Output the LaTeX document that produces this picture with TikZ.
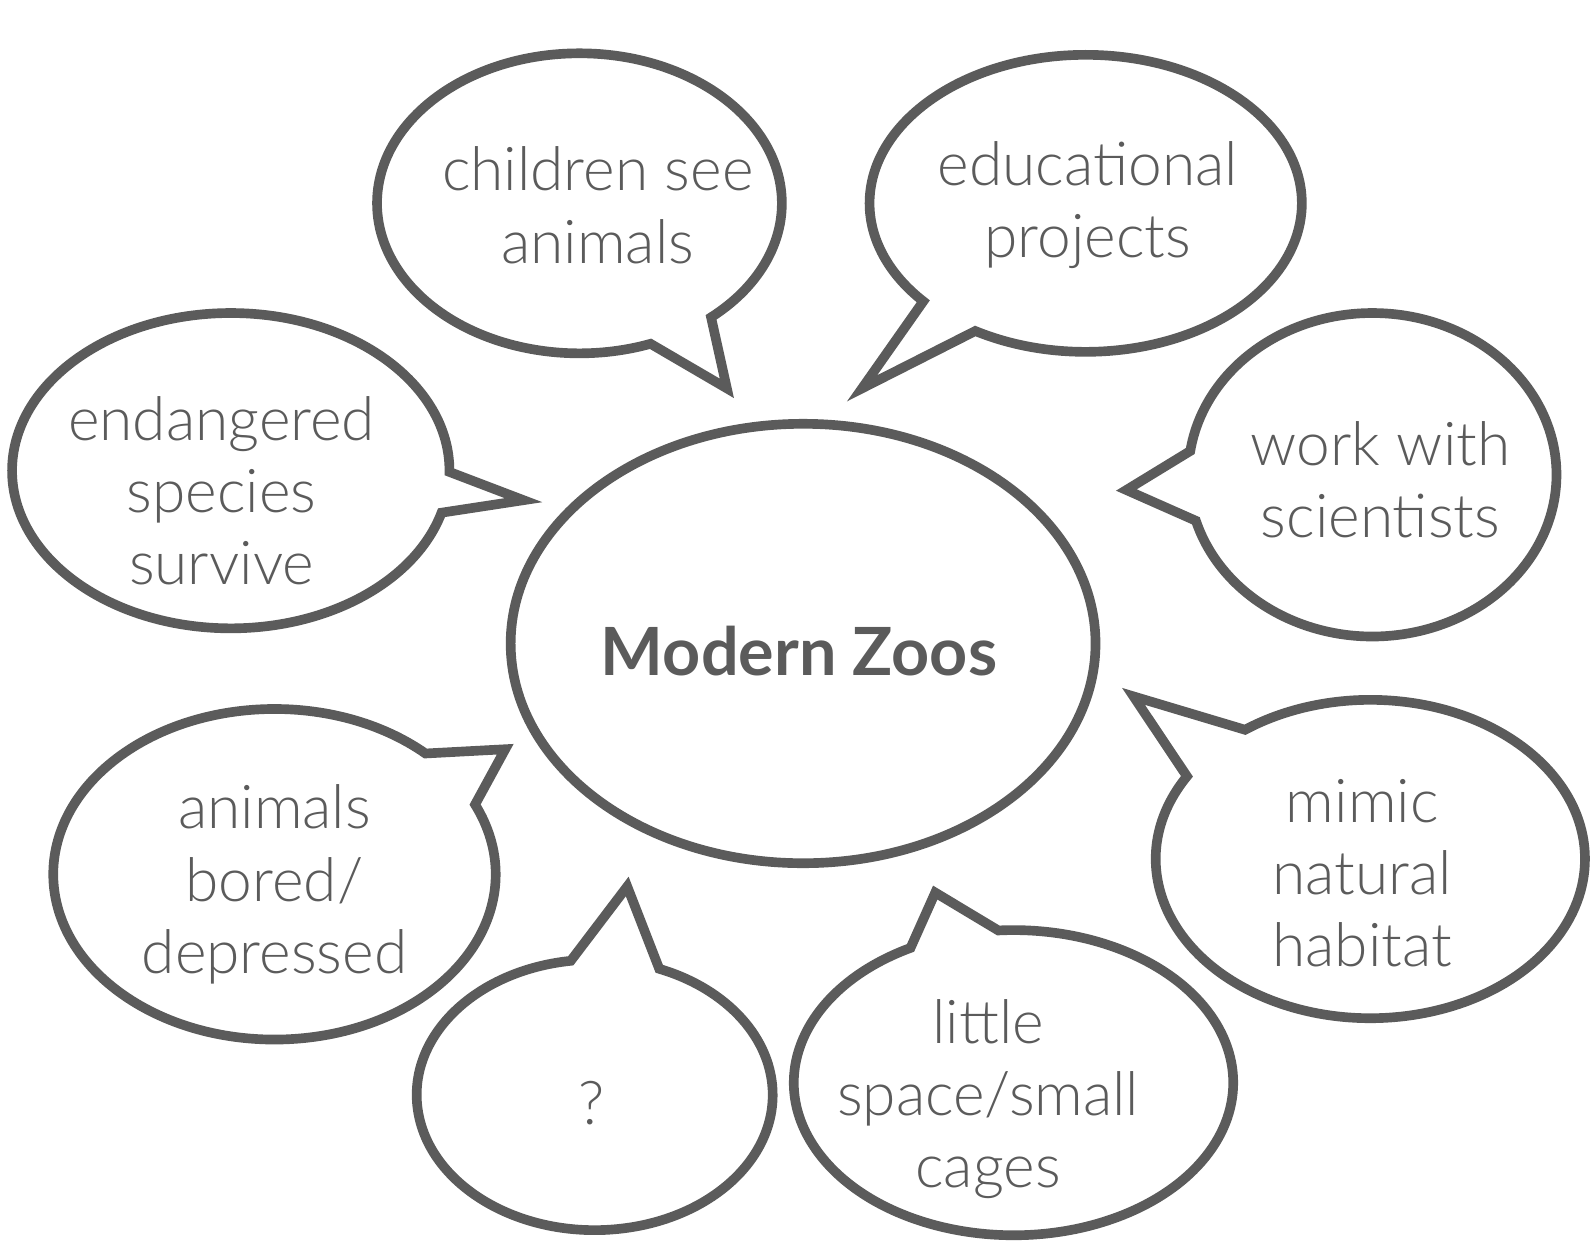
\documentclass[tikz,border=0pt]{standalone}
\usepackage{fontspec}
\setmainfont{Lato}[UprightFont=* Light, BoldFont=* Bold]
\usetikzlibrary{shapes.callouts,shapes.geometric}
\definecolor{zoogray}{HTML}{5B5B5B}
\tikzset{
  bubble/.style={ellipse callout, draw=zoogray, line width=2.7pt, inner sep=0pt, fill=white},
  bubbletext/.style={align=center, text=zoogray, font=\fontsize{16.9}{20.2}\selectfont},
}
\begin{document}
\begin{tikzpicture}[x=0.01cm, y=-0.01cm]
  \useasboundingbox (0,0) rectangle (1568,1226);

  % Centre
  \node[ellipse, draw=zoogray, line width=2.7pt, minimum width=5.75cm, minimum height=4.32cm] (hub) at (790,633) {};
  \node[text=zoogray, font=\fontsize{18.6}{22}\selectfont\bfseries] (hubtext) at (786,640) {Modern Zoos};

  % Speech bubbles around it
  \node[bubble, minimum width=3.98cm, minimum height=2.95cm, callout pointer arc=20,
        callout absolute pointer={(715,382)}] (kids) at (570,200) {};
  \node[bubbletext] (kidstext) at (588,202) {children see\\animals};

  \node[bubble, minimum width=4.25cm, minimum height=2.92cm, callout pointer arc=18,
        callout absolute pointer={(848,382)}] (edu) at (1068,200) {};
  \node[bubbletext] (edutext) at (1070,202) {educational\\projects};

  \node[bubble, minimum width=4.30cm, minimum height=3.10cm, callout pointer arc=15,
        callout absolute pointer={(515,492)}] (survive) at (227,463) {};
  \node[bubbletext] (survivetext) at (218,483) {endangered\\species\\survive};

  \node[bubble, minimum width=3.62cm, minimum height=3.18cm, callout pointer arc=25,
        callout absolute pointer={(1108,482)}] (science) at (1350,467) {};
  \node[bubbletext] (sciencetext) at (1358,472) {work with\\scientists};

  \node[bubble, minimum width=4.22cm, minimum height=3.13cm, callout pointer arc=23,
        callout absolute pointer={(1115,685)}] (habitat) at (1348,845) {};
  \node[bubbletext] (habitattext) at (1340,859) {mimic\\natural\\habitat};

  \node[bubble, minimum width=4.35cm, minimum height=3.25cm, callout pointer arc=22,
        callout absolute pointer={(497,737)}] (bored) at (270,860) {};
  \node[bubbletext] (boredtext) at (270,870) {animals\\bored/\\depressed};

  \node[bubble, minimum width=3.50cm, minimum height=2.66cm, callout pointer arc=29,
        callout absolute pointer={(617,872)}] (unknown) at (585,1077) {};
  \node[bubbletext] (unknowntext) at (582,1085) {?};

  \node[bubble, minimum width=4.32cm, minimum height=3.00cm, callout pointer arc=24,
        callout absolute pointer={(920,878)}] (cages) at (997,1065) {};
  \node[bubbletext] (cagestext) at (972,1081) {little\\space/small\\cages};
\end{tikzpicture}
\end{document}
